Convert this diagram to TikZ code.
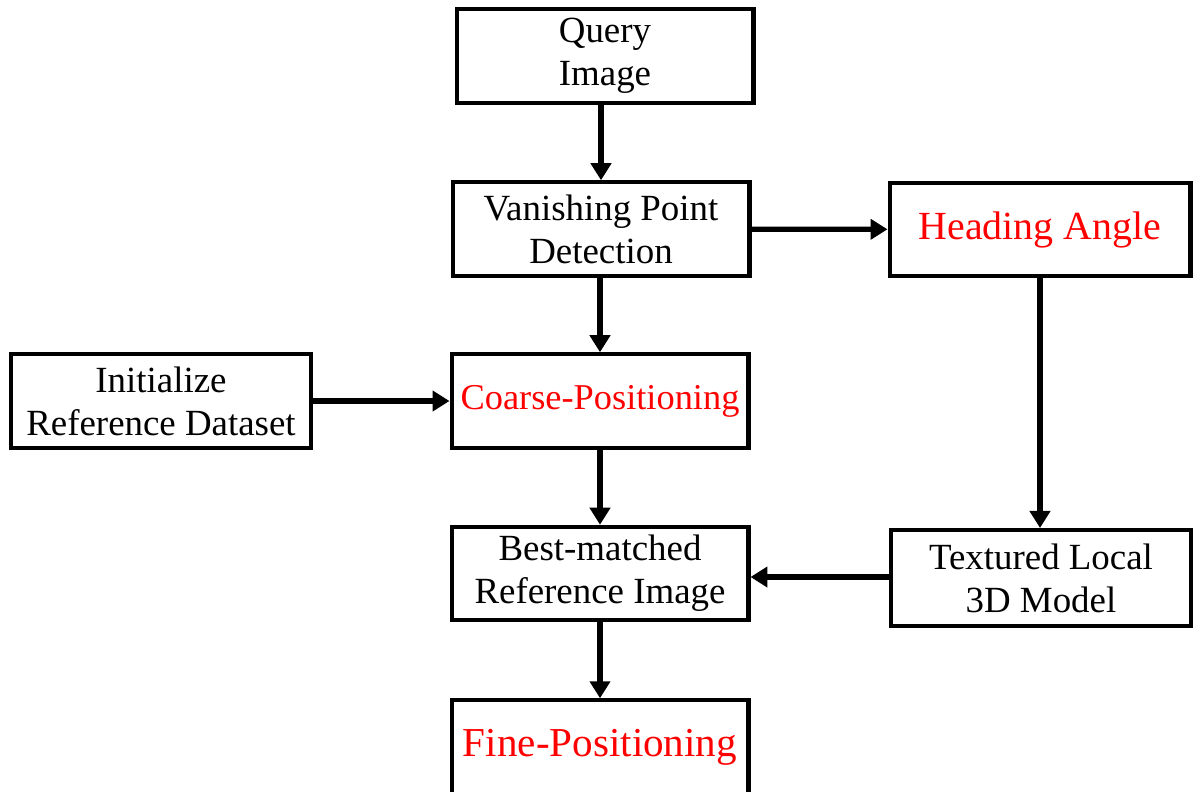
\documentclass[tikz,border=0pt]{standalone}
\usepackage{fontspec}
\setmainfont{Liberation Serif}[Ligatures=TeX]
\newfontfamily\timesfont{LiberationSerif-Regular.ttf}
\usepackage{xcolor}
\usetikzlibrary{arrows.meta,positioning}
\tikzset{
  stagebox/.style={draw=black,line width=2.3pt,align=center,inner sep=0pt,
    minimum width=5.94cm,minimum height=1.87cm,font=\timesfont\fontsize{21}{24.5}\selectfont},
  keybox/.style={stagebox,text=red},
  flowarrow/.style={-{Triangle[length=0.34cm,width=0.4cm]},line width=3pt}
}
\begin{document}
\begin{tikzpicture}[x=0.02cm,y=-0.02cm]
  \useasboundingbox (0,0) rectangle (1193,791);
  \clip (0,0) rectangle (1193,791);
  \node[stagebox] (query) at (605,56) {Query\\Image};
  \node[stagebox] (vanish) at (601,229) {Vanishing Point\\Detection};
  \node[keybox,minimum width=6.02cm,font=\timesfont\fontsize{22.7}{26}\selectfont] (heading) at (1040,229.5) {Heading Angle};
  \node[stagebox,minimum width=6.02cm] (initref) at (161,401) {Initialize\\Reference Dataset};
  \node[keybox,font=\timesfont\fontsize{20.7}{24}\selectfont] (coarse) at (600,401) {Coarse-Positioning};
  \node[stagebox] (bestref) at (600,573.5) {Best-matched\\Reference Image};
  \node[stagebox,minimum width=6.0cm,minimum height=1.92cm] (textured) at (1041,578) {Textured Local\\3D Model};
  \node[keybox,font=\timesfont\fontsize{23.4}{27}\selectfont] (fine) at (600,747) {Fine-Positioning};
  \draw[flowarrow] (vanish.north |- query.south) -- (vanish.north);
  \draw[flowarrow] (vanish) -- (heading);
  \draw[flowarrow] (vanish.south -| coarse.north) -- (coarse.north);
  \draw[flowarrow] (initref) -- (coarse);
  \draw[flowarrow] (coarse) -- (bestref);
  \draw[flowarrow] (heading) -- (textured.north -| heading.south);
  \draw[flowarrow] (textured.west |- 0,577) -- (bestref.east |- 0,577);
  \draw[flowarrow] (bestref) -- (fine);
\end{tikzpicture}
\end{document}
